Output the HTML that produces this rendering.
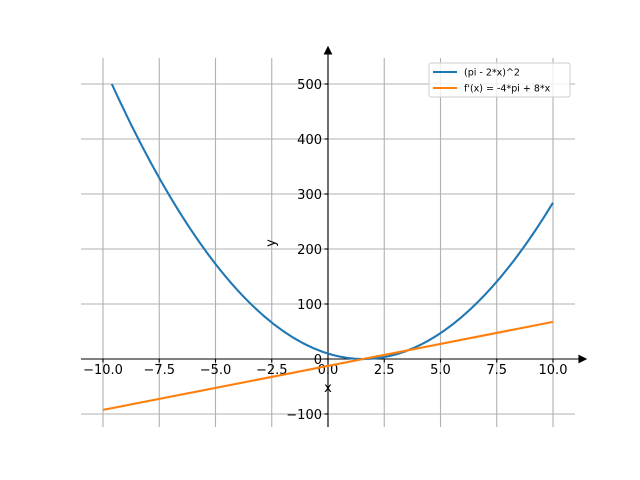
<!DOCTYPE html>
<html><head><meta charset="utf-8"><style>body{margin:0;background:#fff}svg{display:block}</style></head><body>
<svg width="640" height="480" xmlns="http://www.w3.org/2000/svg" font-family="'DejaVu Sans','Liberation Sans',sans-serif" font-size="13">
<g stroke="#b0b0b0" stroke-width="1.1">
<line x1="103" y1="58" x2="103" y2="427"/><line x1="159.25" y1="58" x2="159.25" y2="427"/><line x1="215.5" y1="58" x2="215.5" y2="427"/><line x1="271.75" y1="58" x2="271.75" y2="427"/><line x1="328" y1="58" x2="328" y2="427"/><line x1="384.25" y1="58" x2="384.25" y2="427"/><line x1="440.5" y1="58" x2="440.5" y2="427"/><line x1="496.75" y1="58" x2="496.75" y2="427"/><line x1="553" y1="58" x2="553" y2="427"/>
<line x1="81" y1="414" x2="575" y2="414"/><line x1="81" y1="359" x2="575" y2="359"/><line x1="81" y1="304" x2="575" y2="304"/><line x1="81" y1="249" x2="575" y2="249"/><line x1="81" y1="194" x2="575" y2="194"/><line x1="81" y1="139" x2="575" y2="139"/><line x1="81" y1="84" x2="575" y2="84"/>
</g>
<g stroke="#000" stroke-width="1.1">
<line x1="81" y1="359" x2="580" y2="359"/><path d="M586 359 L579 355.5 L579 362.5Z" fill="#000"/>
<line x1="328" y1="427" x2="328" y2="53"/><path d="M328 47 L324.5 54 L331.5 54Z" fill="#000"/>
<line x1="103" y1="359" x2="103" y2="362.5"/><line x1="159.25" y1="359" x2="159.25" y2="362.5"/><line x1="215.5" y1="359" x2="215.5" y2="362.5"/><line x1="271.75" y1="359" x2="271.75" y2="362.5"/><line x1="328" y1="359" x2="328" y2="362.5"/><line x1="384.25" y1="359" x2="384.25" y2="362.5"/><line x1="440.5" y1="359" x2="440.5" y2="362.5"/><line x1="496.75" y1="359" x2="496.75" y2="362.5"/><line x1="553" y1="359" x2="553" y2="362.5"/>
<line x1="324.5" y1="414" x2="328" y2="414"/><line x1="324.5" y1="359" x2="328" y2="359"/><line x1="324.5" y1="304" x2="328" y2="304"/><line x1="324.5" y1="249" x2="328" y2="249"/><line x1="324.5" y1="194" x2="328" y2="194"/><line x1="324.5" y1="139" x2="328" y2="139"/><line x1="324.5" y1="84" x2="328" y2="84"/>
</g>
<g fill="#000" text-anchor="middle">
<text x="103" y="374">−10.0</text><text x="159.25" y="374">−7.5</text><text x="215.5" y="374">−5.0</text><text x="271.75" y="374">−2.5</text><text x="328" y="374">0.0</text><text x="384.25" y="374">2.5</text><text x="440.5" y="374">5.0</text><text x="496.75" y="374">7.5</text><text x="553" y="374">10.0</text>
<text x="328" y="392">x</text>
<text transform="translate(275 243) rotate(-90)">y</text>
</g>
<g fill="#000" text-anchor="end">
<text x="322" y="419">−100</text><text x="322" y="364">0</text><text x="322" y="309">100</text><text x="322" y="254">200</text><text x="322" y="199">300</text><text x="322" y="144">400</text><text x="322" y="89">500</text>
</g>
<path d="M111.8 84 Q332.4 566.4 553 202.7" fill="none" stroke="#1f77b4" stroke-width="2.1"/>
<line x1="103" y1="409.9" x2="553" y2="321.9" stroke="#ff7f0e" stroke-width="2.1"/>
<rect x="429" y="63" width="141" height="34" rx="2" fill="#fff" fill-opacity="0.8" stroke="#ccc" stroke-width="1"/>
<line x1="433" y1="72" x2="457" y2="72" stroke="#1f77b4" stroke-width="2.1"/>
<line x1="433" y1="88" x2="457" y2="88" stroke="#ff7f0e" stroke-width="2.1"/>
<text x="464" y="75.5" font-size="9.5">(pi - 2*x)^2</text>
<text x="464" y="91.5" font-size="9.5">f'(x) = -4*pi + 8*x</text>
</svg>
</body></html>
